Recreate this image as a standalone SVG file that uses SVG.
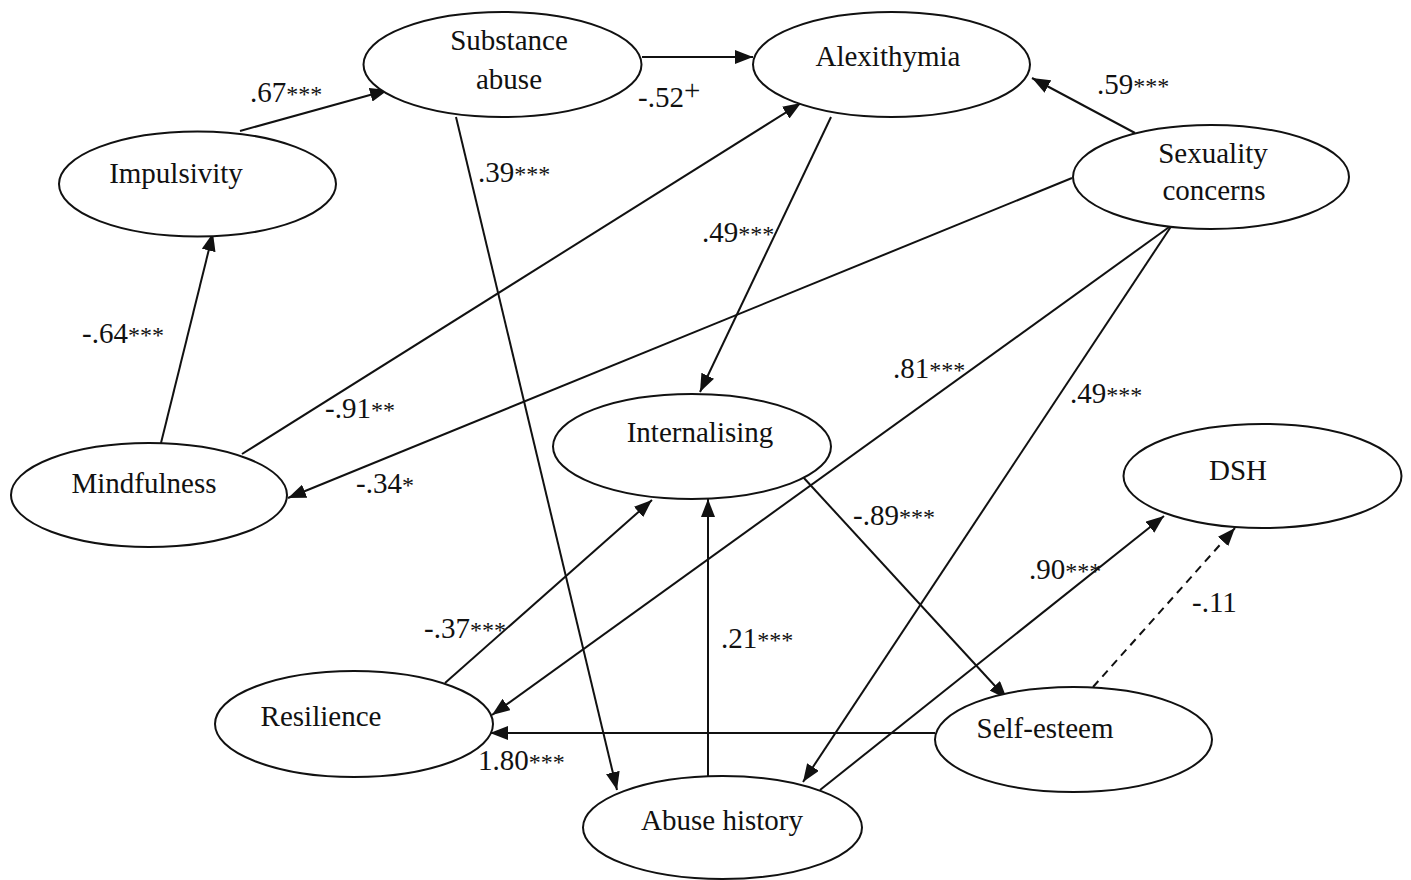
<svg xmlns="http://www.w3.org/2000/svg" width="1411" height="880" viewBox="0 0 1411 880">
  <style>
    .node ellipse { fill: #fff; stroke: #111; stroke-width: 2; }
    .node text { font-family: "Liberation Serif", "Times New Roman", serif; font-size: 29px; fill: #111; text-anchor: middle; }
    .edge { stroke: #111; stroke-width: 2; fill: none; marker-end: url(#arrow); }
    .dashed { stroke-dasharray: 8 6; }
    .lbl { font-family: "Liberation Serif", "Times New Roman", serif; font-size: 29px; fill: #111; }
    .sig { font-size: 24px; }
  </style>
  <defs>
    <marker id="arrow" markerUnits="userSpaceOnUse" markerWidth="20" markerHeight="14" refX="18" refY="7" orient="auto">
      <path d="M0,0 L18,7 L0,14 z" fill="#111"/>
    </marker>
  </defs>
  <rect width="1411" height="880" fill="#fff"/>

  <!-- connectors -->
  <g id="connectors">
    <line class="edge" x1="240" y1="131" x2="388" y2="90"/>
    <line class="edge" x1="642" y1="57" x2="753" y2="57"/>
    <line class="edge" x1="456" y1="117" x2="617" y2="790"/>
    <line class="edge" x1="831" y1="117" x2="700" y2="392"/>
    <line class="edge" x1="1135" y1="133" x2="1032" y2="78"/>
    <line class="edge" x1="1072" y1="178" x2="288" y2="498"/>
    <line class="edge" x1="242" y1="454" x2="801" y2="103"/>
    <line class="edge" x1="161" y1="443" x2="213" y2="233"/>
    <line class="edge" x1="1172" y1="225" x2="492" y2="715"/>
    <line class="edge" x1="1178" y1="216" x2="803" y2="782"/>
    <line class="edge" x1="803" y1="477" x2="1007" y2="699"/>
    <line class="edge" x1="445" y1="683" x2="652" y2="500"/>
    <line class="edge" x1="708" y1="776" x2="708" y2="499"/>
    <line class="edge" x1="935" y1="733" x2="490" y2="733"/>
    <line class="edge" x1="820" y1="790" x2="1164" y2="516"/>
    <line class="edge dashed" x1="1093" y1="687" x2="1235" y2="528"/>
  </g>

  <!-- nodes -->
  <g id="impulsivity" class="node">
    <ellipse cx="197.5" cy="184" rx="138.5" ry="52.5"/>
    <text x="176" y="183">Impulsivity</text>
  </g>
  <g id="substance-abuse" class="node">
    <ellipse cx="502.5" cy="64.5" rx="139" ry="52.5"/>
    <text x="509" y="50">Substance</text>
    <text x="509" y="89">abuse</text>
  </g>
  <g id="alexithymia" class="node">
    <ellipse cx="891.5" cy="64.5" rx="138.5" ry="52.5"/>
    <text x="888" y="66">Alexithymia</text>
  </g>
  <g id="sexuality-concerns" class="node">
    <ellipse cx="1211" cy="177" rx="138" ry="52"/>
    <text x="1213" y="163">Sexuality</text>
    <text x="1214" y="200">concerns</text>
  </g>
  <g id="mindfulness" class="node">
    <ellipse cx="149" cy="495" rx="138" ry="52"/>
    <text x="144" y="493">Mindfulness</text>
  </g>
  <g id="internalising" class="node">
    <ellipse cx="692" cy="446.5" rx="139" ry="52.5"/>
    <text x="700" y="442">Internalising</text>
  </g>
  <g id="dsh" class="node">
    <ellipse cx="1262.5" cy="476" rx="139" ry="52"/>
    <text x="1238" y="480">DSH</text>
  </g>
  <g id="resilience" class="node">
    <ellipse cx="354" cy="724" rx="139" ry="53"/>
    <text x="321" y="726">Resilience</text>
  </g>
  <g id="self-esteem" class="node">
    <ellipse cx="1073.5" cy="739.5" rx="138.5" ry="52.5"/>
    <text x="1045" y="738">Self-esteem</text>
  </g>
  <g id="abuse-history" class="node">
    <ellipse cx="722.5" cy="827.5" rx="139.5" ry="51.5"/>
    <text x="722" y="830">Abuse history</text>
  </g>

  <!-- path coefficients -->
  <g id="coefficients" class="lbl">
    <text x="250" y="102">.67<tspan class="sig">***</tspan></text>
    <text x="638" y="107">-.52<tspan dy="-7">+</tspan></text>
    <text x="478" y="182">.39<tspan class="sig">***</tspan></text>
    <text x="702" y="242">.49<tspan class="sig">***</tspan></text>
    <text x="1097" y="94">.59<tspan class="sig">***</tspan></text>
    <text x="82" y="343">-.64<tspan class="sig">***</tspan></text>
    <text x="325" y="418">-.91<tspan class="sig">**</tspan></text>
    <text x="356" y="493">-.34<tspan class="sig">*</tspan></text>
    <text x="893" y="378">.81<tspan class="sig">***</tspan></text>
    <text x="1070" y="403">.49<tspan class="sig">***</tspan></text>
    <text x="853" y="525">-.89<tspan class="sig">***</tspan></text>
    <text x="424" y="638">-.37<tspan class="sig">***</tspan></text>
    <text x="721" y="648">.21<tspan class="sig">***</tspan></text>
    <text x="478" y="770">1.80<tspan class="sig">***</tspan></text>
    <text x="1029" y="579">.90<tspan class="sig">***</tspan></text>
    <text x="1192" y="612">-.11</text>
  </g>
</svg>
